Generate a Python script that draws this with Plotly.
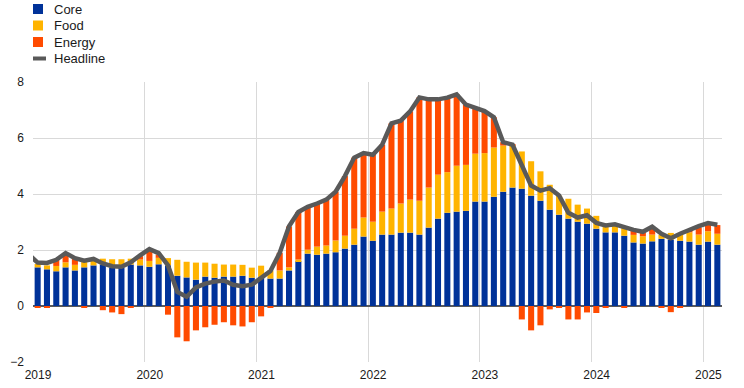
import plotly.graph_objects as go

# ---- data (percentage points / annual % change) ----
months = [f"{y}-{m:02d}" for y in range(2019, 2026) for m in range(1, 13)][:74]

core = [1.38, 1.31, 1.24, 1.38, 1.27, 1.38, 1.45, 1.48, 1.36, 1.36, 1.48, 1.45,
        1.40, 1.49, 1.45, 1.08, 1.02, 0.94, 1.05, 1.01, 1.05, 1.05, 1.08, 1.01,
        1.04, 0.98, 0.98, 1.27, 1.60, 1.87, 1.83, 1.87, 1.92, 2.05, 2.19, 2.48,
        2.33, 2.55, 2.55, 2.62, 2.62, 2.55, 2.80, 3.12, 3.33, 3.37, 3.40, 3.73,
        3.73, 3.90, 4.08, 4.23, 4.19, 3.94, 3.76, 3.44, 3.26, 3.12, 3.01, 2.94,
        2.76, 2.63, 2.63, 2.51, 2.27, 2.23, 2.31, 2.40, 2.37, 2.33, 2.30, 2.19,
        2.30, 2.19]

food = [0.12, 0.14, 0.19, 0.18, 0.20, 0.19, 0.17, 0.21, 0.31, 0.31, 0.21, 0.21,
        0.21, 0.23, 0.26, 0.57, 0.56, 0.61, 0.50, 0.50, 0.43, 0.43, 0.39, 0.36,
        0.40, 0.29, 0.29, 0.11, 0.06, 0.14, 0.29, 0.29, 0.42, 0.46, 0.57, 0.68,
        0.68, 0.82, 0.93, 1.04, 1.18, 1.21, 1.43, 1.57, 1.45, 1.64, 1.64, 1.71,
        1.73, 1.76, 1.65, 1.50, 1.33, 1.23, 1.05, 0.89, 0.68, 0.71, 0.61, 0.54,
        0.46, 0.25, 0.25, 0.27, 0.27, 0.26, 0.24, 0.14, 0.24, 0.27, 0.33, 0.36,
        0.37, 0.39]

energy = [-0.04, -0.04, 0.23, 0.25, 0.24, -0.04, 0.00, -0.15, -0.23, -0.29, -0.07, 0.12,
          0.35, 0.12, -0.31, -1.12, -1.26, -0.87, -0.76, -0.67, -0.58, -0.69, -0.73, -0.58,
          -0.37, -0.04, 0.63, 1.46, 1.70, 1.52, 1.54, 1.64, 1.74, 2.13, 2.54, 2.30,
          2.39, 2.39, 3.04, 2.96, 3.15, 3.69, 3.15, 2.69, 2.66, 2.55, 2.15, 1.64,
          1.50, 1.08, 0.12, 0.03, -0.48, -0.87, -0.69, -0.12, -0.04, -0.48, -0.48, -0.23,
          -0.25, -0.07, 0.00, -0.04, 0.15, 0.14, 0.20, -0.04, -0.22, -0.07, 0.10, 0.26,
          0.24, 0.31]

headline_months = ["2018-12"] + months
headline = [1.85,
            1.55, 1.54, 1.65, 1.89, 1.71, 1.62, 1.68, 1.52, 1.42, 1.40, 1.56, 1.81,
            2.03, 1.89, 1.45, 0.50, 0.33, 0.66, 0.80, 0.87, 0.91, 0.76, 0.71, 0.76,
            1.02, 1.25, 1.90, 2.85, 3.36, 3.54, 3.66, 3.80, 4.08, 4.64, 5.30, 5.46,
            5.40, 5.76, 6.52, 6.62, 6.95, 7.45, 7.38, 7.38, 7.44, 7.56, 7.19, 7.08,
            6.96, 6.74, 5.85, 5.76, 5.04, 4.30, 4.12, 4.21, 3.95, 3.33, 3.16, 3.24,
            2.97, 2.88, 2.92, 2.80, 2.72, 2.65, 2.83, 2.58, 2.42, 2.58, 2.73, 2.85,
            2.96, 2.90]

years = ["2019", "2020", "2021", "2022", "2023", "2024", "2025"]
series_names = ["Core", "Food", "Energy", "Headline"]


def month_index(s):
    y, m = s.split("-")
    return (int(y) - 2019) * 12 + int(m) - 1


x_bars = [month_index(s) for s in months]
x_head = [month_index(s) for s in headline_months]
tick_pos = [month_index(y + "-01") - 0.5 for y in years]

C_CORE = "#003299"
C_FOOD = "#FFB400"
C_ENERGY = "#FF4B00"
C_HEAD = "#595959"
colors = [C_CORE, C_FOOD, C_ENERGY, C_HEAD]

W, H = 744, 388
ML, MR, MT, MB = 33, 22, 82, 26
PW, PH = W - ML - MR, H - MT - MB

fig = go.Figure()
for name, vals, col in zip(series_names[:3], [core, food, energy], colors[:3]):
    fig.add_trace(go.Bar(x=x_bars, y=vals, name=name, showlegend=False,
                         marker=dict(color=col, line_width=0)))
fig.add_trace(go.Scatter(x=x_head, y=headline, name="Headline", mode="lines", showlegend=False,
                         line=dict(color=C_HEAD, width=4.5)))


# ---- legend (drawn in paper coordinates, above the plot area) ----
def px_x(x):
    return (x - ML) / PW


def px_y(y):
    return (H - MB - y) / PH


legend_rows = [9, 25.5, 42, 58.5]
shapes = []
annotations = []
for name, col, yc in zip(series_names, colors, legend_rows):
    if name == "Headline":
        shapes.append(dict(type="line", xref="paper", yref="paper",
                           x0=px_x(33), x1=px_x(46), y0=px_y(yc), y1=px_y(yc),
                           line=dict(color=col, width=4)))
    else:
        shapes.append(dict(type="rect", xref="paper", yref="paper",
                           x0=px_x(33), x1=px_x(43), y0=px_y(yc + 5), y1=px_y(yc - 5),
                           fillcolor=col, line=dict(width=0)))
    annotations.append(dict(text=name, xref="paper", yref="paper", x=px_x(52), y=px_y(yc),
                            xanchor="left", yanchor="middle", showarrow=False,
                            font=dict(size=13, color="#1a1a1a")))

fig.update_layout(
    width=W, height=H,
    margin=dict(l=ML, r=MR, t=MT, b=MB, autoexpand=False),
    barmode="relative", bargap=0.35,
    plot_bgcolor="white", paper_bgcolor="white",
    font=dict(family="Liberation Sans, Arial, sans-serif", size=12, color="#1a1a1a"),
    showlegend=False,
    shapes=shapes,
    annotations=annotations,
)
fig.update_xaxes(range=[-0.5, 73.5], tickmode="array", tickvals=tick_pos, ticktext=years,
                 showgrid=True, gridcolor="#d9d9d9", gridwidth=1, zeroline=False,
                 showline=False, ticks="", ticklabelshift=5, ticklabelstandoff=4)
fig.update_yaxes(range=[-2, 8], tick0=0, dtick=2, showgrid=True, gridcolor="#d9d9d9",
                 gridwidth=1, zeroline=True, zerolinecolor="#595959", zerolinewidth=1.5,
                 showline=False, ticks="", ticklabelstandoff=8)

fig.write_html("out.html", config={"displayModeBar": False},
               post_script="document.body.style.margin='0px';")
